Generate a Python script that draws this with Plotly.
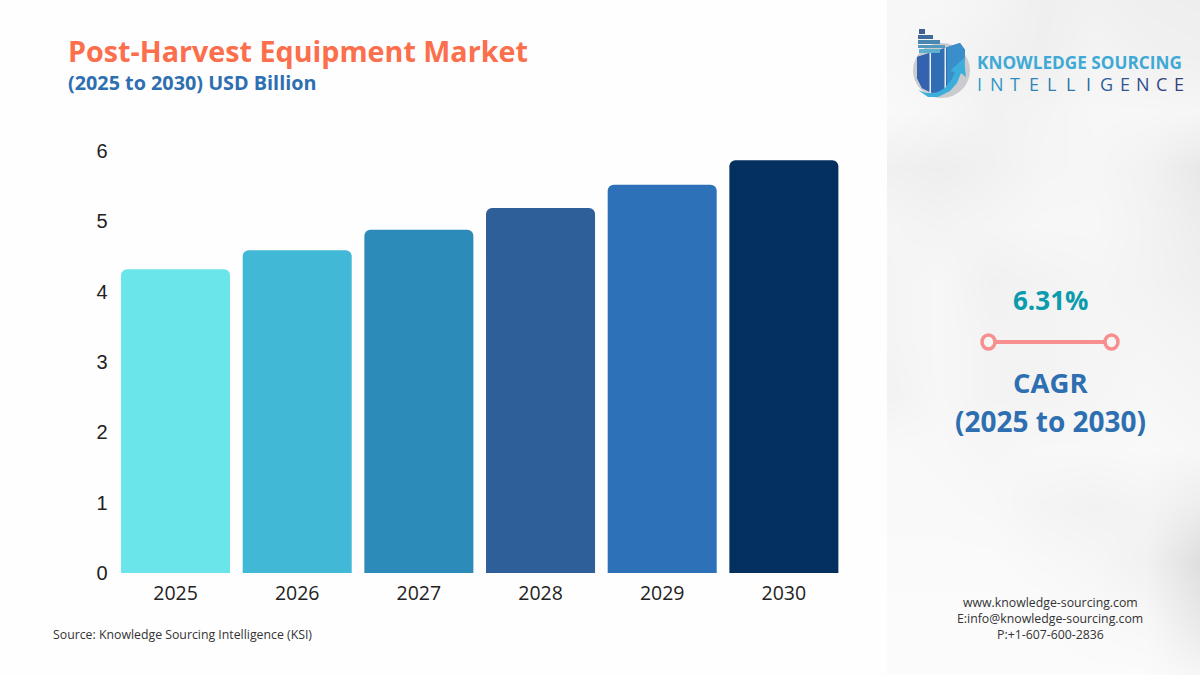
import plotly.graph_objects as go

W, H = 1200, 675

years = ["2025", "2026", "2027", "2028", "2029", "2030"]
market_size = [4.32, 4.59, 4.88, 5.19, 5.52, 5.87]
bar_colors = ["#6AE6EA", "#41B8D5", "#2D8BBA", "#2F5F98", "#2D72B8", "#03305F"]
y_ticks = [0, 1, 2, 3, 4, 5, 6]

# blurred photo behind the right panel, grey levels
panel_x = [887, 939, 991, 1043, 1095, 1147, 1200]
panel_y = [0, 56, 112, 168, 225, 281, 337, 394, 450, 506, 562, 618, 675]
panel_grey = [
    [247, 247, 244, 239, 241, 239, 238],
    [247, 245, 241, 239, 244, 241, 240],
    [249, 247, 242, 244, 247, 247, 246],
    [240, 238, 241, 245, 246, 242, 232],
    [245, 243, 245, 247, 247, 243, 237],
    [244, 247, 241, 243, 245, 243, 239],
    [244, 247, 243, 243, 245, 245, 243],
    [242, 247, 243, 243, 245, 247, 245],
    [249, 248, 246, 248, 248, 249, 247],
    [249, 249, 248, 244, 242, 244, 237],
    [250, 250, 250, 248, 246, 241, 222],
    [251, 251, 251, 251, 249, 247, 232],
    [251, 251, 251, 251, 251, 251, 246],
]

logo_letters = list("INTELLIGENCE")
logo_letter_colors = ["#2F9CC8", "#2F96C4", "#2E8EBE", "#2E86B8", "#2E7EB2", "#2E74AC",
                      "#2E6AA4", "#2F5F9C", "#305594", "#324C8C", "#344686", "#364080"]
# rows of containers on the logo: left, right, top, bottom, colour
logo_rows = [
    (919, 925, 29, 34, "#3F5F8F"),
    (918, 933, 35, 39, "#3F6B9B"),
    (918, 940, 40, 44, "#4A86B2"),
    (918, 945, 45, 48, "#5498BE"),
    (919, 940, 49, 53, "#5FB0CF"),
]

FONT = "Open Sans"


def px(x, y):
    return x / W, 1 - y / H


def path(points, close=True):
    parts = []
    for i, (x, y) in enumerate(points):
        fx, fy = px(x, y)
        parts.append(f"{'M' if i == 0 else 'L'}{fx:.5f},{fy:.5f}")
    return " ".join(parts) + (" Z" if close else "")


def label(text, x, y, size, color, bold=False, anchor="center"):
    fx, fy = px(x, y)
    fig.add_annotation(
        text=f"<b>{text}</b>" if bold else text,
        x=fx, y=fy, xref="paper", yref="paper",
        xanchor=anchor, yanchor="middle", showarrow=False,
        font={"family": FONT, "size": size, "color": color},
    )


def shape_path(points, color):
    fig.add_shape(type="path", path=path(points), xref="paper", yref="paper",
                  fillcolor=color, line={"width": 0}, layer="above")


def shape_box(kind, x0, y0, x1, y1, fill, line=None, width=0):
    fx0, fy0 = px(x0, y0)
    fx1, fy1 = px(x1, y1)
    fig.add_shape(type=kind, x0=fx0, y0=fy0, x1=fx1, y1=fy1, xref="paper", yref="paper",
                  fillcolor=fill, line={"width": width, "color": line or fill}, layer="above")


fig = go.Figure()

fig.add_trace(go.Heatmap(
    x=panel_x, y=panel_y, z=panel_grey, xaxis="x2", yaxis="y2",
    zmin=0, zmax=255, zsmooth="best", showscale=False, hoverinfo="skip",
    colorscale=[[0, "rgb(0,0,0)"], [1, "rgb(255,255,255)"]],
))

fig.add_trace(go.Bar(
    x=years, y=market_size, width=0.896,
    marker={"color": bar_colors, "line": {"width": 0}},
))

fig.update_layout(
    width=W, height=H,
    margin={"l": 0, "r": 0, "t": 0, "b": 0, "autoexpand": False},
    paper_bgcolor="#FEFEFE", plot_bgcolor="rgba(0,0,0,0)",
    showlegend=False, barcornerradius=6,
    font={"family": FONT, "color": "#222222"},
    xaxis={
        "domain": [114.7 / W, 844.7 / W], "type": "category", "automargin": False,
        "showgrid": False, "zeroline": False, "showline": False,
        "ticks": "outside", "ticklen": 3, "tickcolor": "rgba(0,0,0,0)",
        "tickfont": {"size": 19.5, "color": "#222222"},
    },
    yaxis={
        "domain": [1 - 573 / H, 1 - 151 / H], "range": [0, 6], "tickvals": y_ticks, "automargin": False,
        "showgrid": False, "zeroline": False, "showline": False,
        "ticks": "outside", "ticklen": 2, "tickcolor": "rgba(0,0,0,0)",
        "tickfont": {"family": "Liberation Sans", "size": 20, "color": "#222222"},
    },
    xaxis2={"domain": [887 / W, 1], "range": [887, 1200], "anchor": "y2", "visible": False, "automargin": False},
    yaxis2={"domain": [0, 1], "range": [675, 0], "anchor": "x2", "visible": False, "automargin": False},
)

label("Post-Harvest Equipment Market", 66, 50, 28.7, "#FB6F4C", bold=True, anchor="left")
label("(2025 to 2030) USD Billion", 66, 83, 19.8, "#2D6FB0", bold=True, anchor="left")
label("Source: Knowledge Sourcing Intelligence (KSI)", 51, 634, 12.3, "#333333", anchor="left")

# CAGR block
label("6.31%", 1050, 300, 26, "#0B9BAD", bold=True)
shape_box("rect", 988, 340, 1112, 344, "#F78F8F")
shape_box("circle", 982, 335, 995, 349, "#F6F6F6", "#F78F8F", 3.5)
shape_box("circle", 1105, 335, 1118, 349, "#F6F6F6", "#F78F8F", 3.5)
label("CAGR", 1050, 383, 27.5, "#2D6FB0", bold=True)
label("(2025 to 2030)", 1050, 421, 28, "#2D6FB0", bold=True)

label("www.knowledge-sourcing.com", 1050, 602, 12.3, "#333333")
label("E:info@knowledge-sourcing.com", 1050, 618, 12.3, "#333333")
label("P:+1-607-600-2836", 1050, 634, 12.3, "#333333")

# logo
shape_box("circle", 913, 43, 970, 98, "#C9CBCF")
shape_path([(917, 57), (960, 43), (965, 50), (964, 66), (954, 82), (945, 92), (932, 93),
            (922, 88), (917, 78)], "#2F6DB5")
shape_path([(917, 57), (930, 53), (930, 92), (922, 88), (917, 78)], "#3562AE")
shape_path([(947, 47), (960, 43), (965, 50), (964, 66), (954, 82), (947, 89)], "#3A8FCB")
shape_box("rect", 929.5, 53, 931, 93, "#E8EEF4")
shape_box("rect", 944.5, 48, 946, 92, "#E8EEF4")
for left, right, top, bottom, color in logo_rows:
    shape_box("rect", left, top, right, bottom, color)
shape_path([(918, 90), (926, 93), (936, 93), (945, 88), (952, 79), (955, 72), (950, 71),
            (964, 58), (966, 77), (961, 73), (957, 83), (950, 91), (938, 97), (928, 97)], "#3BAEDC")
label("KNOWLEDGE SOURCING", 975, 62, 17.2, "#3FA9D6", bold=True, anchor="left")
for i, letter in enumerate(logo_letters):
    label(letter, 979 + i * 18.2, 84, 18, logo_letter_colors[i])

# drop the page's default body margin so the 1200x675 figure fills the window
pin_figure = """
document.body.style.margin = '0';
document.body.style.overflow = 'hidden';
"""
fig.write_html("out.html", config={"displayModeBar": False}, post_script=pin_figure)
